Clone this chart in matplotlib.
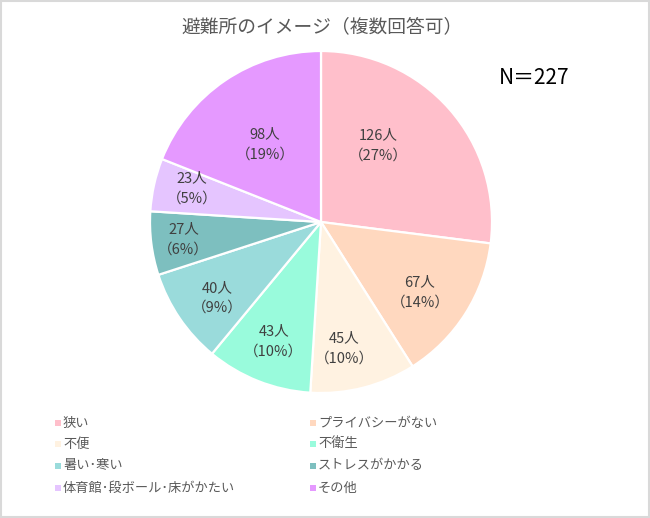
import numpy as np
import matplotlib
matplotlib.use("Agg")
import matplotlib.pyplot as plt
from matplotlib.patches import Rectangle

plt.rcParams['font.family'] = ['Noto Sans CJK JP', 'DejaVu Sans']

# Data
categories = ['狭い', 'プライバシーがない', '不便', '不衛生',
              '暑い･寒い', 'ストレスがかかる', '体育館･段ボール･床がかたい', 'その他']
counts = [126, 67, 45, 43, 40, 27, 23, 98]
percents = [27, 14, 10, 10, 9, 6, 5, 19]
total_n = 227

COLORS = ['#FFBFCB', '#FFD8BF', '#FFF2E1', '#99FBDC',
          '#9ADBDB', '#7DBFBF', '#E5C5FF', '#E599FF']
# label placement (fraction of radius, angle nudge in degrees)
LABEL_R = [0.56, 0.71, 0.75, 0.75, 0.75, 0.81, 0.78, 0.56]
LABEL_DA = [12, -3, -4, 0, 2, 0, -2, 1.5]

W, H = 650, 518
fig = plt.figure(figsize=(W / 100, H / 100), dpi=100)

# Pie axes (center 321,222 px, radius 171 px)
cx, cy, r = 321, 222, 171
ax = fig.add_axes([(cx - r) / W, (H - cy - r) / H, 2 * r / W, 2 * r / H])
wedges, _ = ax.pie(percents, colors=COLORS, startangle=90, counterclock=False,
                   radius=1, wedgeprops=dict(edgecolor='white', linewidth=1.6))
ax.set_xlim(-1, 1)
ax.set_ylim(-1, 1)
ax.axis('off')

for w, n, p, lr, da in zip(wedges, counts, percents, LABEL_R, LABEL_DA):
    ang = np.deg2rad((w.theta1 + w.theta2) / 2 + da)
    x, y = lr * np.cos(ang), lr * np.sin(ang)
    ax.text(x, y, f'{n}人\n（{p}%）', ha='center', va='center',
            fontsize=10.5, color='#404040', linespacing=1.55)

# Title and N
fig.text(322 / W, 1 - 27 / H, '避難所のイメージ（複数回答可）', ha='center', va='center',
         fontsize=13.5, color='#595959')
fig.text(534 / W, 1 - 78 / H, f'N＝{total_n}', ha='center', va='center',
         fontsize=15, color='#000000')

# Legend (row-wise, two columns)
col_x = [57.5, 312.5]
row_y = [423, 444, 466, 488]
for i, (cat, col) in enumerate(zip(categories, COLORS)):
    xpx = col_x[i % 2]
    ypx = row_y[i // 2]
    s = 6
    fig.patches.append(Rectangle(((xpx - s / 2) / W, (H - ypx - s / 2) / H), s / W, s / H,
                                 transform=fig.transFigure, facecolor=col,
                                 edgecolor='none'))
    fig.text((xpx + 5.5) / W, 1 - ypx / H, cat, ha='left', va='center',
             fontsize=9.5, color='#595959')

# Border
fig.patches.append(Rectangle((0.0015, 0.002), 0.997, 0.996, transform=fig.transFigure,
                             facecolor='none', edgecolor='#D9D9D9', linewidth=1.5))

fig.savefig('out.png', dpi=100)
